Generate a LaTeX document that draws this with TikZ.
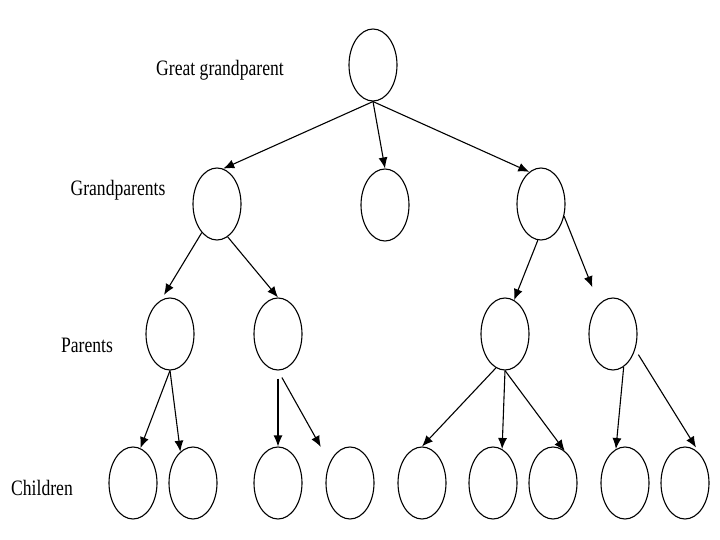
\documentclass[tikz,border=0pt]{standalone}
\usepackage{fontspec}
\setmainfont[FakeStretch=0.8]{Liberation Serif}
\usepackage{tikz}
\usetikzlibrary{shapes.geometric, arrows.meta}

\begin{document}
\begin{tikzpicture}[x=1pt, y=-1pt, font=\fontsize{22}{24}\selectfont,
            person/.style={ellipse, draw, line width=1.1pt, minimum width=48pt, minimum height=72pt, inner sep=0pt},
            link/.style={line width=1.1pt, -{Latex[length=11pt,width=9pt]}}]
            \useasboundingbox (0,0) rectangle (720,540);
            \node[person] (gg) at (373,65) {};
            \node[person] (gp1) at (217,204) {};
            \node[person] (gp2) at (385,205) {};
            \node[person] (gp3) at (541,204) {};
            \node[person] (p1) at (170,334) {};
            \node[person] (p2) at (278,334) {};
            \node[person] (p3) at (505,334) {};
            \node[person] (p4) at (613,334) {};
            \node[person] (c1) at (133,483) {};
            \node[person] (c2) at (193,483) {};
            \node[person] (c3) at (278,483) {};
            \node[person] (c4) at (350,483) {};
            \node[person] (c5) at (422,483) {};
            \node[person] (c6) at (493,483) {};
            \node[person] (c7) at (553,483) {};
            \node[person] (c8) at (625,483) {};
            \node[person] (c9) at (685,483) {};
            \node (lgg) at (220,70) {Great grandparent};
            \node (lgp) at (118,190) {Grandparents};
            \node (lp) at (87,345) {Parents};
            \node (lc) at (42,488) {Children};
            \draw[link] (gg.south) -- (gp1.80);
            \draw[link] (gg.south) -- (gp2.north);
            \draw[link] (gg.south) -- (gp3.110);
            \draw[link, shorten >=6pt] (gp1.-118) -- (p1.105);
            \draw[link] (gp1.-72) -- (p2.north);
            \draw[link] (gp3.-95) -- (p3.75);
            \draw[link, shorten >=18pt] (gp3.-28) -- (p4.115);
            \draw[link] (p1.south) -- (c1.78);
            \draw[link] (p1.south) -- (c2.112);
            \draw[link, shorten <=8pt] (p2.south) -- (c3.north);
            \draw[link, shorten <=8pt, shorten >=18pt] (p2.south) -- (c4.135);
            \draw[link] (p3.-105) -- (c5.north);
            \draw[link] (p3.south) -- (c6.75);
            \draw[link] (p3.south) -- (c7.70);
            \draw[link] (p4.-72) -- (c8.105);
            \draw[link, shorten <=6pt, shorten >=8pt] (p4.-35) -- (c9.62);
        \end{tikzpicture}
\end{document}
